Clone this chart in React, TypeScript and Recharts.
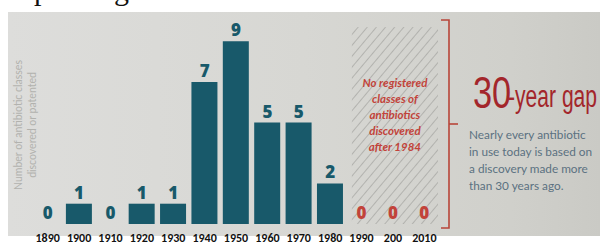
import React from 'react';
import { ComposedChart, Bar, Line, XAxis, YAxis, LabelList, ReferenceArea } from 'recharts';

const decades = ['1890', '1900', '1910', '1920', '1930', '1940', '1950', '1960', '1970', '1980', '1990', '2000', '2010'];
const tickLabels = ['1890', '1900', '1910', '1920', '1930', '1940', '1950', '1960', '1970', '1980', '1990', '200', '2010'];
const classCounts = [0, 1, 0, 1, 1, 7, 9, 5, 5, 2, 0, 0, 0];
const gapDecades = ['1990', '2000', '2010'];
const gapNote = ['No registered', 'classes of', 'antibiotics', 'discovered', 'after 1984'];
const sideNote = ['Nearly every antibiotic', 'in use today is based on', 'a discovery made more', 'than 30 years ago.'];

const TEAL = '#18596a';
const RED = '#c2433a';
const DARK_RED = '#a3262b';

const data = decades.map((d, i) => ({ decade: d, count: classCounts[i] }));

// labels sit on an invisible line so that the zero decades get one too
const ValueLabel = (props: any) => {
  const { x, y, value, index } = props;
  const inGap = gapDecades.includes(decades[index]);
  return (
    <text
      x={x}
      y={y - 5}
      textAnchor="middle"
      fill={inGap ? RED : TEAL}
      fontFamily="'Open Sans', sans-serif"
      fontWeight={800}
      fontSize={17}
    >
      {value}
    </text>
  );
};

const XTick = (props: any) => {
  const { x, y, payload } = props;
  return (
    <text x={x} y={y + 10} textAnchor="middle" fill="#111" fontFamily="Carlito, 'Liberation Sans', sans-serif" fontWeight={700} fontSize={12}>
      {tickLabels[payload.index]}
    </text>
  );
};

const HatchShape = (props: any) => {
  const { x, y, width, height } = props;
  const cx = x + 6 + (width - 8) / 2;
  return (
    <g>
      <rect x={x + 6} y={y} width={width - 8} height={height} fill="url(#hatch)" />
      {gapNote.map((line, i) => (
        <text
          key={line}
          x={cx}
          y={y + 60 + i * 16}
          textAnchor="middle"
          fill={RED}
          fontFamily="Lato, sans-serif"
          fontStyle="italic"
          fontWeight={700}
          fontSize={11.5}
        >
          {line}
        </text>
      ))}
    </g>
  );
};

export default function App() {
  return (
    <div style={{ position: 'relative', width: 592, height: 237, marginLeft: 8, marginTop: 8 }}>
      <style>{'body { margin: 0; overflow: hidden; }'}</style>
      <div style={{ position: 'absolute', top: -33, left: 0, fontFamily: "'Liberation Serif', serif", fontSize: 30, lineHeight: '30px', color: '#111' }}>
        <span style={{ position: 'absolute', left: 26 }}>p</span>
        <span style={{ position: 'absolute', left: 106 }}>g</span>
      </div>
      <div
        style={{
          position: 'absolute',
          top: 4,
          left: 0,
          width: 592,
          height: 224,
          background: 'linear-gradient(90deg, #dddddb 0%, #d7d7d3 50%, #d0d0cb 85%, #cacac5 100%)',
        }}
      />
      <div
        style={{
          position: 'absolute',
          left: 17,
          top: 117,
          transform: 'translate(-50%, -50%) rotate(-90deg)',
          fontFamily: 'Lato, sans-serif',
          fontSize: 10.5,
          lineHeight: '14px',
          color: '#b2b2ae',
          textAlign: 'center',
          whiteSpace: 'nowrap',
        }}
      >
        Number of antibiotic classes
        <br />
        discovered or patented
      </div>
      <div style={{ position: 'absolute', left: 0, top: 0 }}>
        <ComposedChart width={592} height={237} data={data} margin={{ top: 13, right: 160, left: 24, bottom: 0 }} barCategoryGap="8%">
          <defs>
            <pattern id="hatch" width="7" height="7" patternUnits="userSpaceOnUse" patternTransform="rotate(40)">
              <line x1="0" y1="0" x2="0" y2="7" stroke="#a9a9a6" strokeWidth={1.6} />
            </pattern>
          </defs>
          <XAxis dataKey="decade" axisLine={false} tickLine={false} height={21} interval={0} tick={<XTick />} />
          <YAxis hide domain={[0, 10]} />
          <ReferenceArea x1="1990" x2="2010" y1={0} y2={9.7} shape={<HatchShape />} ifOverflow="visible" />
          <Bar dataKey="count" fill={TEAL} isAnimationActive={false} />
          <Line dataKey="count" stroke="none" dot={false} activeDot={false} isAnimationActive={false}>
            <LabelList dataKey="count" content={<ValueLabel />} />
          </Line>
        </ComposedChart>
      </div>
      <svg width={592} height={237} style={{ position: 'absolute', left: 0, top: 0 }}>
        <polyline points="433,12 441,12 441,220 433,220" fill="none" stroke="#b8463a" strokeWidth={1.6} />
        <line x1={441} y1={116} x2={450} y2={116} stroke="#b8463a" strokeWidth={1.6} />
      </svg>
      <div style={{ position: 'absolute', left: 465, top: 63, color: DARK_RED, fontFamily: "'Liberation Sans', sans-serif", fontSize: 44, lineHeight: '44px', whiteSpace: 'nowrap', transform: 'scaleX(0.78)', transformOrigin: 'left' }}>
        30
      </div>
      <div style={{ position: 'absolute', left: 500, top: 63, color: DARK_RED, fontFamily: "'Liberation Sans', sans-serif", fontSize: 31, lineHeight: '51px', whiteSpace: 'nowrap', transform: 'scaleX(0.68)', transformOrigin: 'left' }}>
        -year gap
      </div>
      <div style={{ position: 'absolute', left: 461, top: 118, fontFamily: 'Lato, sans-serif', fontSize: 11.8, lineHeight: '17px', color: '#5b7181', whiteSpace: 'nowrap' }}>
        {sideNote.map((l) => (
          <div key={l}>{l}</div>
        ))}
      </div>
    </div>
  );
}
